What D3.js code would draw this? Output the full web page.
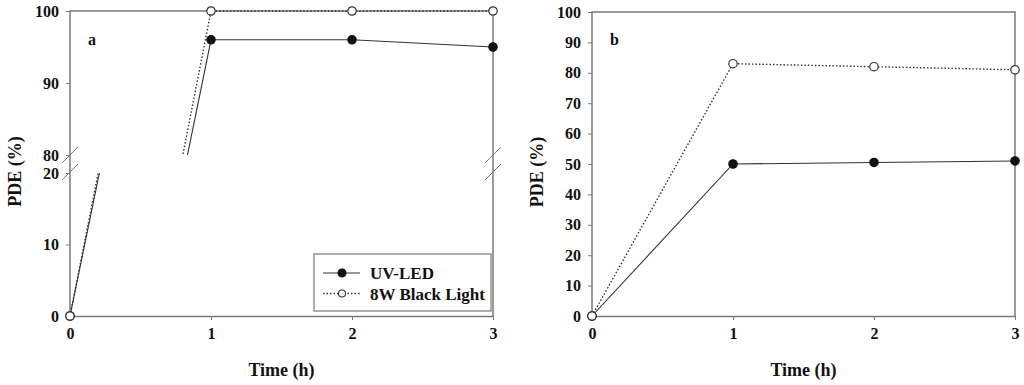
<!DOCTYPE html>
<html>
<head>
<meta charset="utf-8">
<script src="https://cdn.jsdelivr.net/npm/d3@7"></script>
<style>
  body { margin: 0; background: #fff; }
  svg text { font-family: "Liberation Serif", "Times New Roman", serif; font-weight: bold; fill: #111; }
</style>
</head>
<body>
<svg id="chart" width="1024" height="385"></svg>
<script>
// data
const times = [0, 1, 2, 3];
const uvLedA = [0, 96, 96, 95];
const blackLightA = [0, 100, 100, 100];
const uvLedB = [0, 50, 50.5, 51];
const blackLightB = [0, 83, 82, 81];
const xTicks = [0, 1, 2, 3];
const lowTicksA = [0, 10, 20];
const highTicksA = [80, 90, 100];
const ticksB = [0, 10, 20, 30, 40, 50, 60, 70, 80, 90, 100];
const seriesNames = ["UV-LED", "8W Black Light"];

const axisColor = "#7a7a7a";
const lineColor = "#333";

const svg = d3.select("#chart");

function bottomAxis(g, x, bottom) {
  g.append("g")
    .attr("transform", `translate(0,${bottom})`)
    .call(d3.axisBottom(x).tickValues(xTicks).tickSize(4).tickSizeOuter(0).tickPadding(8).tickFormat(d3.format("d")))
    .call(a => a.select(".domain").attr("stroke", axisColor).attr("stroke-width", 1.5))
    .call(a => a.selectAll(".tick line").attr("stroke", axisColor))
    .call(a => a.selectAll("text").attr("font-size", 16).attr("font-family", null).attr("fill", "#111"));
}

function leftTicks(g, y, ticks, left) {
  g.append("g")
    .attr("transform", `translate(${left},0)`)
    .call(d3.axisLeft(y).tickValues(ticks).tickSize(4).tickPadding(7).tickFormat(d3.format("d")))
    .call(a => a.select(".domain").remove())
    .call(a => a.selectAll(".tick line").attr("stroke", axisColor))
    .call(a => a.selectAll("text").attr("font-size", 16).attr("font-family", null).attr("fill", "#111"));
}

function drawSeries(g, x, y, vals, dashed, clipId) {
  const line = d3.line().x((d, i) => x(times[i])).y(d => y(d));
  g.append("path")
    .datum(vals)
    .attr("d", line)
    .attr("fill", "none")
    .attr("stroke", lineColor)
    .attr("stroke-width", dashed ? 1.4 : 1.1)
    .attr("stroke-dasharray", dashed ? "1.5,2" : null)
    .attr("clip-path", clipId ? `url(#${clipId})` : null);
}

function drawMarkers(g, x, yOf, vals, filled) {
  vals.forEach((v, i) => {
    const yy = yOf(v);
    if (yy == null) return;
    g.append("circle")
      .attr("cx", x(times[i]))
      .attr("cy", yy)
      .attr("r", 4.2)
      .attr("fill", filled ? "#111" : "#fff")
      .attr("stroke", filled ? "#111" : "#333")
      .attr("stroke-width", 1.2);
  });
}

// ---------------- panel a (broken y axis) ----------------
const A = { left: 70, right: 493, top: 11, bottom: 316, breakHi: 155, breakLo: 173 };
const xA = d3.scaleLinear().domain([0, 3]).range([A.left, A.right]);
const yLow = d3.scaleLinear().domain([0, 20]).range([A.bottom, A.breakLo]);
const yHigh = d3.scaleLinear().domain([80, 100]).range([A.breakHi, A.top]);
const yA = v => v <= 20 ? yLow(v) : (v >= 80 ? yHigh(v) : null);

const defs = svg.append("defs");
defs.append("clipPath").attr("id", "clipLow").append("rect")
  .attr("x", A.left).attr("y", A.breakLo).attr("width", A.right - A.left).attr("height", A.bottom - A.breakLo);
defs.append("clipPath").attr("id", "clipHigh").append("rect")
  .attr("x", A.left).attr("y", A.top - 3).attr("width", A.right - A.left + 3).attr("height", A.breakHi - A.top + 3);

const gA = svg.append("g");
// frame
gA.append("path")
  .attr("d", `M${A.left},${A.bottom}V${A.top}H${A.right}V${A.bottom}`)
  .attr("fill", "none").attr("stroke", axisColor).attr("stroke-width", 1.5);
bottomAxis(gA, xA, A.bottom);
leftTicks(gA, yLow, lowTicksA, A.left);
leftTicks(gA, yHigh, highTicksA, A.left);

// break marks on both vertical axes
[A.left, A.right].forEach(xx => {
  [A.breakHi, A.breakLo - 1].forEach(yy => {
    gA.append("line")
      .attr("x1", xx - 8).attr("y1", yy + 8).attr("x2", xx + 8).attr("y2", yy - 8)
      .attr("stroke", axisColor).attr("stroke-width", 1);
  });
});

// series drawn in each segment of the broken axis
drawSeries(gA, xA, yLow, uvLedA, false, "clipLow");
drawSeries(gA, xA, yHigh, uvLedA, false, "clipHigh");
drawSeries(gA, xA, yLow, blackLightA, true, "clipLow");
drawSeries(gA, xA, yHigh, blackLightA, true, "clipHigh");
drawMarkers(gA, xA, yA, uvLedA, true);
drawMarkers(gA, xA, yA, blackLightA, false);

gA.append("text").attr("x", 88).attr("y", 45).attr("font-size", 16).text("a");
gA.append("text")
  .attr("transform", `translate(21,${(A.top + A.bottom) / 2 + 8}) rotate(-90)`)
  .attr("text-anchor", "middle").attr("font-size", 18).text("PDE (%)");
gA.append("text")
  .attr("x", (A.left + A.right) / 2).attr("y", 376)
  .attr("text-anchor", "middle").attr("font-size", 18).text("Time (h)");

// legend
const leg = gA.append("g");
leg.append("rect")
  .attr("x", 314).attr("y", 254).attr("width", 177).attr("height", 57)
  .attr("fill", "#fff").attr("stroke", axisColor).attr("stroke-width", 1.2);
seriesNames.forEach((name, i) => {
  const yy = 273 + i * 20.5;
  leg.append("line")
    .attr("x1", 323).attr("x2", 360).attr("y1", yy).attr("y2", yy)
    .attr("stroke", lineColor).attr("stroke-width", i ? 1.4 : 1.1)
    .attr("stroke-dasharray", i ? "1.5,2" : null);
  leg.append("circle")
    .attr("cx", 342).attr("cy", yy).attr("r", i ? 3.5 : 4)
    .attr("fill", i ? "#fff" : "#111").attr("stroke", i ? "#333" : "#111").attr("stroke-width", 1.1);
  leg.append("text").attr("x", 370).attr("y", yy + 6).attr("font-size", 17).text(name);
});

// ---------------- panel b ----------------
const B = { left: 592, right: 1015, top: 12, bottom: 316 };
const xB = d3.scaleLinear().domain([0, 3]).range([B.left, B.right]);
const yB = d3.scaleLinear().domain([0, 100]).range([B.bottom, B.top]);

const gB = svg.append("g");
gB.append("path")
  .attr("d", `M${B.left},${B.bottom}V${B.top}H${B.right}V${B.bottom}`)
  .attr("fill", "none").attr("stroke", axisColor).attr("stroke-width", 1.5);
bottomAxis(gB, xB, B.bottom);
leftTicks(gB, yB, ticksB, B.left);

drawSeries(gB, xB, yB, uvLedB, false, null);
drawSeries(gB, xB, yB, blackLightB, true, null);
drawMarkers(gB, xB, yB, uvLedB, true);
drawMarkers(gB, xB, yB, blackLightB, false);

gB.append("text").attr("x", 610).attr("y", 45).attr("font-size", 16).text("b");
gB.append("text")
  .attr("transform", `translate(543,${(B.top + B.bottom) / 2 + 8}) rotate(-90)`)
  .attr("text-anchor", "middle").attr("font-size", 18).text("PDE (%)");
gB.append("text")
  .attr("x", (B.left + B.right) / 2).attr("y", 376)
  .attr("text-anchor", "middle").attr("font-size", 18).text("Time (h)");
</script>
</body>
</html>
